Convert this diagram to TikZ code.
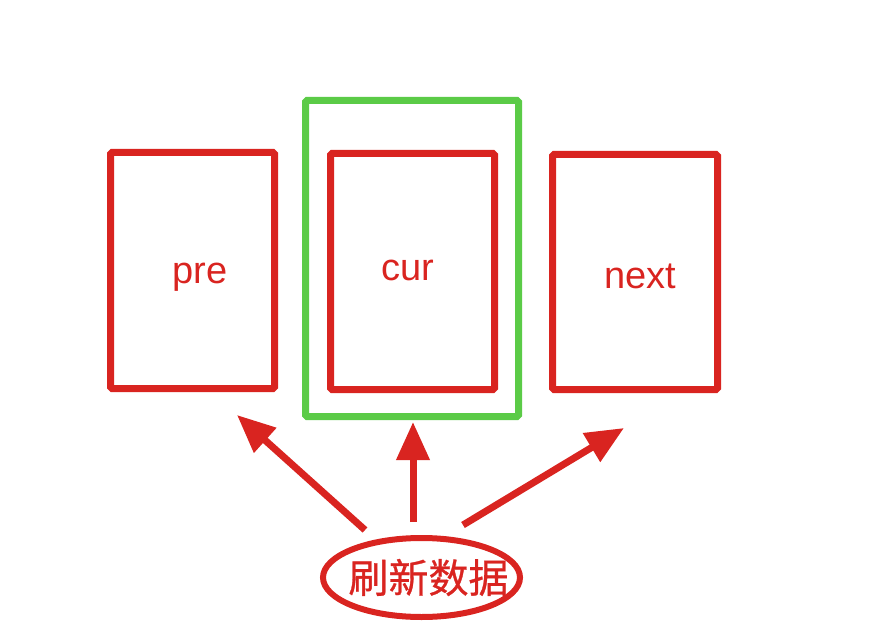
\documentclass[tikz,border=0pt]{standalone}
\usepackage{fontspec}
\setmainfont{Liberation Sans}
\newfontfamily\cjk[FakeBold=0.8]{Noto Sans CJK SC}
\usepackage{xcolor}
\usepackage{tikz}
\usetikzlibrary{shapes.geometric}
\usetikzlibrary{arrows.meta}
\usetikzlibrary{calc}
\definecolor{boxred}{HTML}{D92420}
\definecolor{boxgreen}{HTML}{5BCB47}

\begin{document}
\begin{tikzpicture}[x = 1pt, y = -1pt]
		\useasboundingbox (0, 0) rectangle (872, 636);

		\node (3) [rectangle, draw = boxgreen, line width = 7pt, rounded corners = 1.5pt, minimum width = 213pt, minimum height = 316pt] at (412, 258.5) {};

		\begin{scope}[every node/.style={rectangle, draw = boxred, line width = 7pt, rounded corners = 1.5pt, text = boxred, inner sep = 0pt, text depth = 0pt, font = \fontsize{38}{40}\selectfont, minimum width = 164pt, minimum height = 236pt}]
		\node (0) [text height = 25pt] at (192.5, 270.5) {\hspace*{15pt}pre};
		\node (1) [text height = 17pt] at (412.5, 271.5) {cur\hspace*{9pt}};
		\node (2) [text height = 32pt, minimum width = 165pt, minimum height = 235pt] at (635, 272) {\hspace*{10pt}next};
		\end{scope}

		\node (4) [ellipse, draw = boxred, line width = 6pt, inner xsep = -20pt, inner ysep = 0pt, minimum width = 197pt, minimum height = 79pt, text = boxred, font = \cjk\fontsize{40}{42}\selectfont] at (421.5, 577.5) {\hspace*{14pt}刷新数据};

		\coordinate (t0) at (237, 415);
		\coordinate (t1) at (413, 422);
		\coordinate (t2) at (624, 428);

		\begin{scope}[>={Triangle[length = 38pt, width = 32pt]}, line width = 7pt, draw = boxred]
		\draw [->] ($(4.center) + (-56.5, -47.5)$) -- (t0);
		\draw [->] ($(4.center) + (-8.5, -55.5)$) -- (t1);
		\draw [->] ($(4.center) + (41.5, -52.5)$) -- (t2);
		\end{scope}

\end{tikzpicture}
\end{document}
